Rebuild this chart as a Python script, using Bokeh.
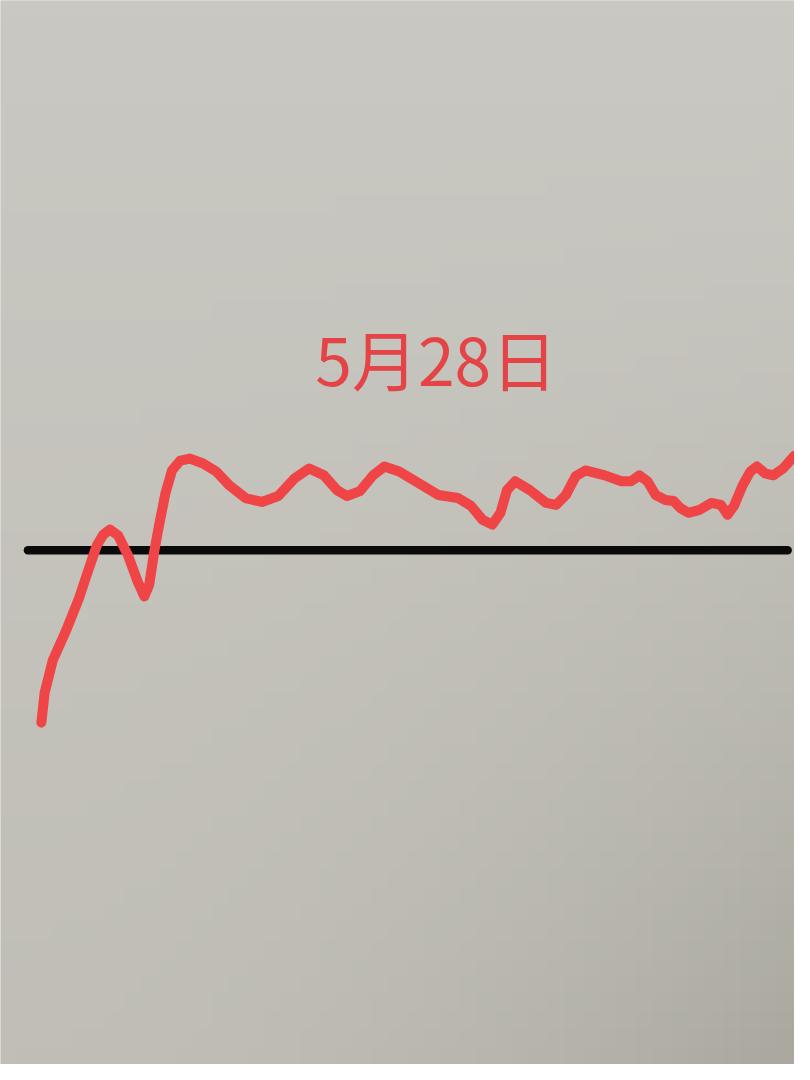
import numpy as np
from bokeh.plotting import figure
from bokeh.models import Range1d
from bokeh.embed import file_html
from bokeh.resources import INLINE
from bokeh.core.properties import value

# Intraday trace: minutes since the open (0-240) and change relative to the previous close
title_text = "5月28日"
minutes = [4.24, 5.26, 7.83, 11.98, 16.10, 19.20, 21.77, 23.85, 25.92, 28.49, 31.59, 34.68,
           36.76, 38.31, 39.86, 41.40, 43.45, 45.52, 48.09, 51.19, 55.34, 59.46, 63.58,
           68.75, 73.92, 79.06, 84.23, 88.88, 93.52, 97.64, 100.74, 104.89, 109.01, 112.63,
           117.28, 123.47, 129.66, 135.85, 139.97, 143.60, 146.69, 149.27, 151.34, 153.91,
           158.56, 163.73, 166.82, 169.92, 173.02, 176.11, 182.30, 187.44, 190.54, 193.14,
           195.72, 198.29, 201.38, 203.99, 206.03, 208.63, 212.23, 215.85, 218.95, 221.02,
           223.07, 225.67, 228.24, 230.31, 232.89, 235.46, 238.55, 242.17]
change = [-17.5, -14.5, -11.2, -8.2, -4.9, -1.9, 0.5, 1.6, 2.1, 1.5, -0.5, -3.2,
          -4.7, -3.5, -0.2, 2.5, 5.8, 8.1, 9.1, 9.3, 8.8, 8.0, 6.6,
          5.3, 4.9, 5.5, 7.3, 8.3, 7.6, 6.1, 5.5, 6.0, 7.6, 8.5,
          8.0, 6.8, 5.6, 5.3, 4.5, 3.1, 2.6, 3.8, 6.1, 7.0,
          6.1, 4.8, 4.6, 5.6, 7.5, 8.1, 7.6, 7.0, 7.0, 7.6,
          7.0, 5.6, 5.1, 5.0, 4.3, 3.8, 4.1, 4.8, 4.6, 3.6,
          4.5, 6.5, 8.0, 8.5, 7.8, 7.6, 8.3, 9.6]
base_x = [0, 240]
base_y = [0, 0]
title_x = [129.0]
title_y = [19.6]

X0, X1 = -8.67, 242.17
Y0, Y1 = -52.2, 55.8
BG = "#c6c5bd"

p = figure(width=794, height=1064, output_backend="svg", toolbar_location=None,
           x_range=Range1d(X0, X1), y_range=Range1d(Y0, Y1),
           min_border=0, background_fill_color=BG, border_fill_color=BG,
           outline_line_color=None)
p.axis.visible = False
p.grid.visible = False

# paper-like background shading (decoration only)
ny, nx = 60, 45
u = np.linspace(0, 1, nx)[None, :]
v = np.linspace(1, 0, ny)[:, None]          # row 0 = bottom of the plot
top = np.array([201, 200, 194])
bottom = np.array([192, 190, 182])
dark = np.array([22, 22, 23])
rgb = top[None, None, :] + (bottom - top)[None, None, :] * v[..., None] \
      - dark[None, None, :] * ((u * v) ** 2)[..., None]
rgb = np.broadcast_to(rgb, (ny, nx, 3)).clip(0, 255).astype(np.uint32)
img = (255 << 24) | (rgb[..., 2] << 16) | (rgb[..., 1] << 8) | rgb[..., 0]
p.image_rgba(image=[img.astype(np.uint32)], x=X0, y=Y0, dw=X1 - X0, dh=Y1 - Y0)

p.line(base_x, base_y, line_color="#0a0a0a", line_width=8.5, line_cap="round")
p.line(minutes, change, line_color="#ef4546", line_width=10, line_cap="round",
       line_join="round")
p.text(title_x, title_y, text=[title_text], text_align="center",
       text_baseline="alphabetic", text_color="#e54446",
       text_font=value("Noto Sans CJK SC"), text_font_size="66px")

html = file_html(p, INLINE)
html = html.replace("<body>", '<body style="background:%s">' % BG, 1)
open("out.html", "w").write(html)
